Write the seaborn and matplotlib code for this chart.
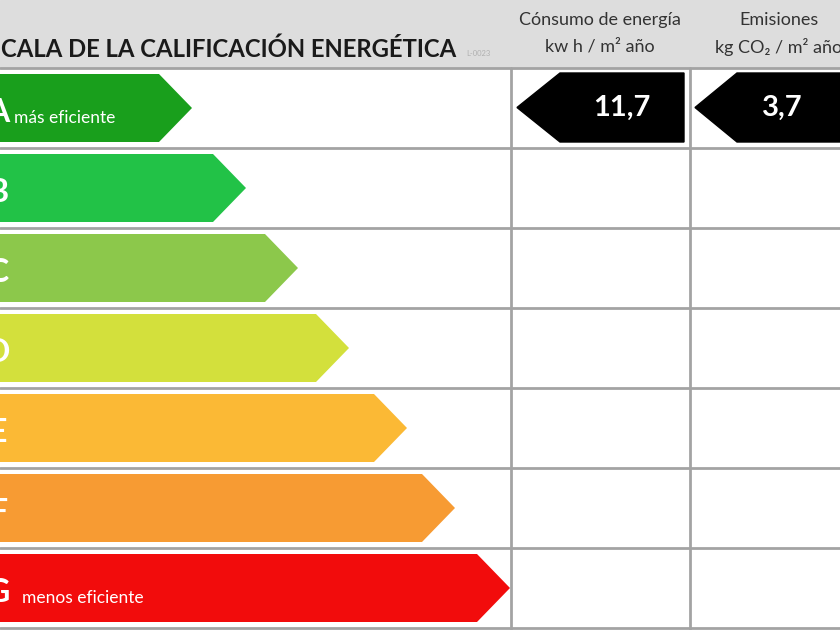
import matplotlib
matplotlib.use("Agg")
import matplotlib.pyplot as plt
from matplotlib.patches import Polygon, Rectangle
import seaborn as sns

# Escala de calificación energética
grades = ["A", "B", "C", "D", "E", "F", "G"]
arrow_tips = [192, 246, 298, 349, 407, 455, 510]
grade_colors = ["#199f1c", "#22c247", "#8cc84b", "#d3e03c", "#fbb935", "#f79b33", "#f20c0c"]
grade_notes = {"A": "más eficiente", "G": "menos eficiente"}

consumo_valor = "11,7"
emision_valor = "3,7"
consumo_titulo = ["Cónsumo de energía", "kw h / m² año"]
emision_titulo = ["Emisiones", "kg CO₂ / m² año"]

sns.set_theme(style="white")
plt.rcParams["font.family"] = ["Lato", "DejaVu Sans"]

TIP = 33
ROW = 80.0
HEAD = 68.0

fig = plt.figure(figsize=(8.4, 6.3), dpi=100)
ax = fig.add_axes([0, 0, 1, 1])

# cuerpos de las flechas con barplot (filas centradas en 0..6)
bodies = [t - TIP for t in arrow_tips]
sns.barplot(x=bodies, y=grades, hue=grades, palette=grade_colors, orient="h",
            width=0.85, legend=False, ax=ax, saturation=1)
bars = list(ax.patches)

def py(p):
    # pixel vertical -> coordenada del eje
    return (p - HEAD) / ROW - 0.5

ax.set_xlim(0, 840)
ax.set_ylim(py(630), py(0))
ax.axis("off")

# cabecera gris
ax.add_patch(Rectangle((0, py(HEAD)), 840, py(0) - py(HEAD), color="#dddddd", zorder=0))

# puntas de las flechas, pegadas a cada barra
for i, (bar, t) in enumerate(zip(bars, arrow_tips)):
    bar.set_linewidth(0)
    b = bar.get_width()
    y0 = bar.get_y()
    y1 = y0 + bar.get_height()
    ax.add_patch(Polygon([(b - 0.5, y0), (b, y0), (t, (y0 + y1) / 2), (b, y1), (b - 0.5, y1)],
                         closed=True, facecolor=bar.get_facecolor(), lw=0, zorder=bar.get_zorder()))
    ax.text(-2, i + 0.05, grades[i], color="white", fontsize=23, fontweight="bold",
            ha="center", va="center", zorder=4)
    if grades[i] in grade_notes:
        xoff = 14 if grades[i] == "A" else 22
        ax.text(xoff, i + 0.12, grade_notes[grades[i]], color="white", fontsize=12.5,
                ha="left", va="center", zorder=4)

# rejilla
line_c = "#a3a3a3"
for k in range(8):
    ax.plot([0, 840], [k - 0.5, k - 0.5], color=line_c, lw=2, zorder=2)
for xv in [511, 690]:
    ax.plot([xv, xv], [-0.5, py(630)], color=line_c, lw=2, zorder=2)

# títulos
ax.text(1, py(49), "CALA DE LA CALIFICACIÓN ENERGÉTICA", fontsize=17.2,
        fontweight="bold", color="#1a1a1a", ha="left", va="center")
ax.text(466, py(53), "L-0023", fontsize=5.5, color="#b0b0b0", ha="left", va="center")
for j, txt in enumerate(consumo_titulo):
    ax.text(600, py(20 + 27 * j), txt, fontsize=13, color="#333333", ha="center", va="center")
for j, txt in enumerate(emision_titulo):
    ax.text(779, py(20 + 27 * j), txt, fontsize=13, color="#333333", ha="center", va="center")

# flechas negras con los valores
y0, y1 = py(73), py(142)
ym = (y0 + y1) / 2
ax.add_patch(Polygon([(517, ym), (560, y0), (684, y0), (684, y1), (560, y1)],
                     closed=True, color="black", zorder=3))
ax.add_patch(Polygon([(695, ym), (737, y0), (850, y0), (850, y1), (737, y1)],
                     closed=True, color="black", zorder=3))
ax.text(622, ym, consumo_valor, color="white", fontsize=21, fontweight="bold",
        ha="center", va="center", zorder=4)
ax.text(782, ym, emision_valor, color="white", fontsize=21, fontweight="bold",
        ha="center", va="center", zorder=4)

fig.savefig("out.png", dpi=100)
